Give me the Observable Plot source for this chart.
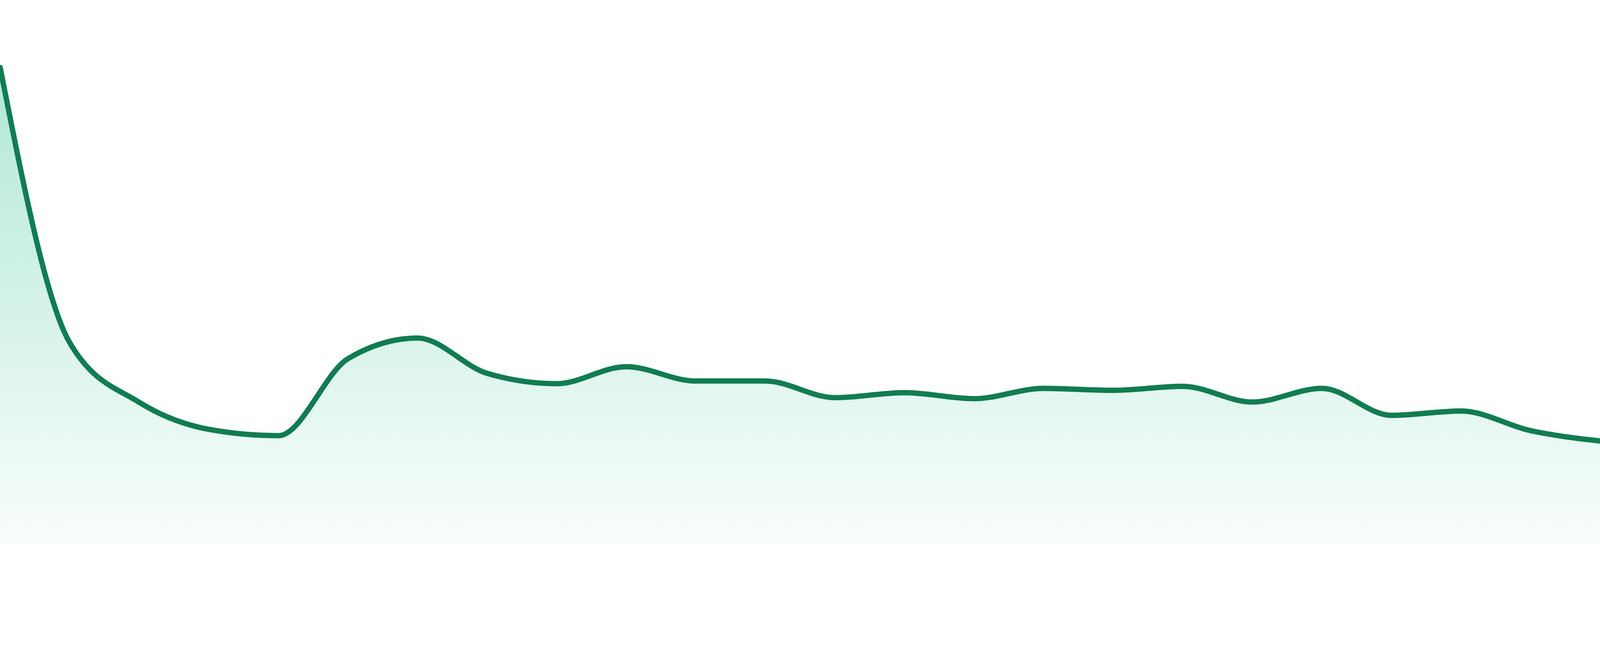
<!DOCTYPE html>
<html>
<head>
<meta charset="utf-8">
<script src="https://cdn.jsdelivr.net/npm/d3@7"></script>
<script src="https://cdn.jsdelivr.net/npm/@observablehq/plot@0.6"></script>
<style>
  html, body { margin: 0; padding: 0; background: #ffffff; overflow: hidden; }
  #chart svg { display: block; }
</style>
</head>
<body>
<div id="chart"></div>
<script>
// Period index (24 evenly spaced observations)
const periods = [0, 1, 2, 3, 4, 5, 6, 7, 8, 9, 10, 11, 12, 13, 14, 15, 16, 17, 18, 19, 20, 21, 22, 23];
// Series values
const values = [143.0, 60.4, 42.5, 34.4, 32.5, 55.6, 61.8, 51.2, 48.1, 53.2, 48.9, 48.9,
                43.9, 45.4, 43.6, 46.7, 46.1, 47.3, 42.6, 46.7, 38.6, 39.9, 34.0, 30.9];

const lineColor = "#117c52";
const fillColor = "#10b981";

const data = periods.map((p, i) => ({p, v: values[i]}));

const chart = Plot.plot({
  width: 4800,
  height: 1680,
  marginTop: 32,
  marginBottom: 48,
  marginLeft: 0,
  marginRight: 0,
  style: {background: "#ffffff", overflow: "visible"},
  x: {domain: [0, 23], axis: null},
  y: {domain: [0, 160], axis: null},
  marks: [
    Plot.areaY(data, {x: "p", y: "v", fill: "url(#areaGrad)", curve: "monotone-x"}),
    Plot.lineY(data, {x: "p", y: "v", stroke: lineColor, strokeWidth: 16, curve: "monotone-x"})
  ]
});

const defs = d3.select(chart).insert("defs", ":first-child");
const grad = defs.append("linearGradient")
  .attr("id", "areaGrad")
  .attr("x1", 0).attr("y1", 0).attr("x2", 0).attr("y2", 1);
grad.append("stop").attr("offset", "0%").attr("stop-color", fillColor).attr("stop-opacity", 0.33);
grad.append("stop").attr("offset", "100%").attr("stop-color", fillColor).attr("stop-opacity", 0.025);

document.getElementById("chart").appendChild(chart);
</script>
</body>
</html>
